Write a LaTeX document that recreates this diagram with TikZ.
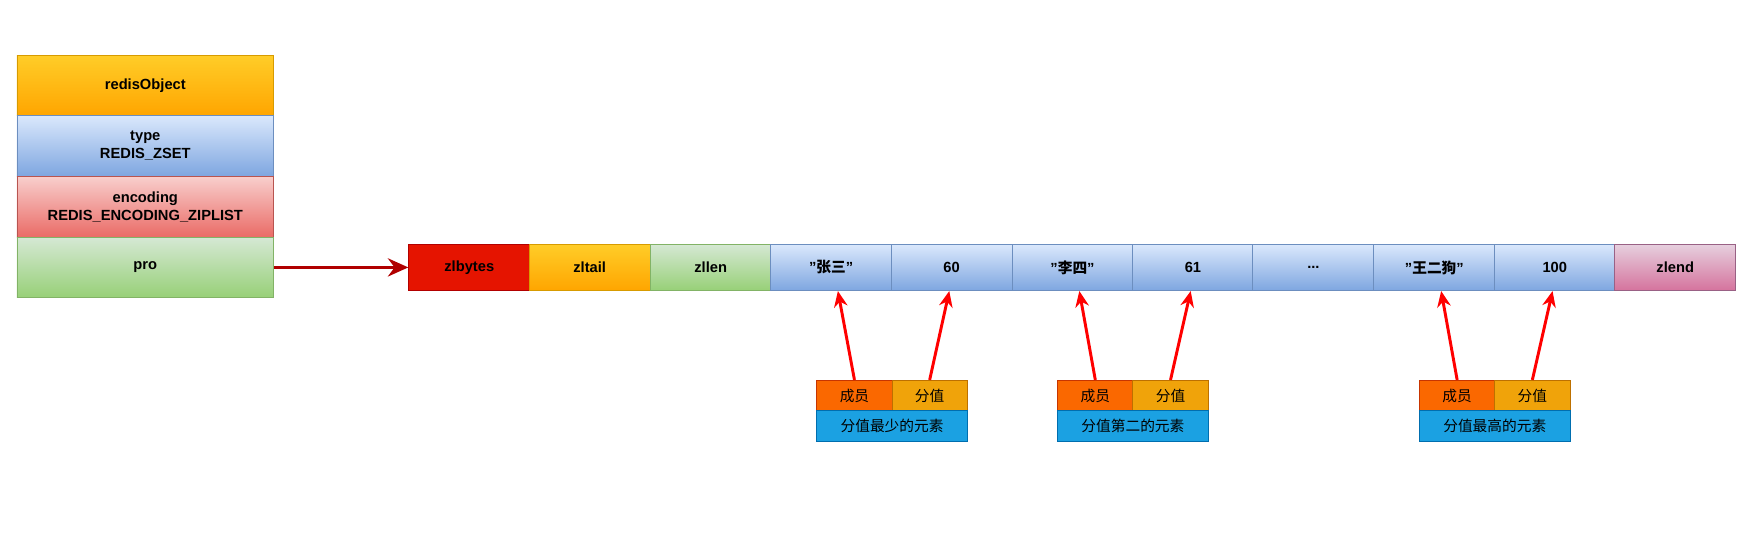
\documentclass[tikz,border=0pt]{standalone}
\usepackage{fontspec}
\usetikzlibrary{arrows.meta}
\setmainfont{Liberation Sans}
\newfontfamily\cjk{Noto Sans CJK SC}
\begin{document}
\begin{tikzpicture}[x=0.5pt,y=-0.5pt,
  cell/.style={draw, line width=0.4pt, minimum width=53.5pt, minimum height=20.5pt, inner sep=0pt, font=\bfseries\fontsize{6.5}{7.5}\selectfont},
  obj/.style={draw, line width=0.4pt, minimum width=113.5pt, minimum height=26.75pt, inner sep=0pt, align=center, font=\bfseries\fontsize{6.5}{7.8}\selectfont},
  sm/.style={draw, line width=0.4pt, minimum width=33.25pt, minimum height=13.5pt, inner sep=0pt, font=\cjk\fontsize{6.5}{7.5}\selectfont},
  wide/.style={draw, line width=0.4pt, minimum width=66.5pt, minimum height=13.5pt, inner sep=0pt, font=\cjk\fontsize{6.5}{7.5}\selectfont},
  redarr/.style={draw=red, line width=1.3pt, -{Stealth[length=7pt,width=6pt]}}]
\useasboundingbox (0,0) rectangle (1560,480);
\definecolor{oA}{HTML}{FFCD28}\definecolor{oB}{HTML}{FFA500}\definecolor{oD}{HTML}{D79B00}
\definecolor{bA}{HTML}{DAE8FC}\definecolor{bB}{HTML}{7EA6E0}\definecolor{bD}{HTML}{6C8EBF}
\definecolor{rA}{HTML}{F8CECC}\definecolor{rB}{HTML}{EA6B66}\definecolor{rD}{HTML}{B85450}
\definecolor{gA}{HTML}{D5E8D4}\definecolor{gB}{HTML}{97D077}\definecolor{gD}{HTML}{82B366}
\definecolor{pA}{HTML}{E6D0DE}\definecolor{pB}{HTML}{D5739D}\definecolor{pD}{HTML}{996185}
\definecolor{zr}{HTML}{E51400}\definecolor{zrD}{HTML}{B20000}
\definecolor{mo}{HTML}{FA6800}\definecolor{moD}{HTML}{C73500}
\definecolor{sc}{HTML}{F0A30A}\definecolor{scD}{HTML}{BD7000}
\definecolor{bl}{HTML}{1BA1E2}\definecolor{blD}{HTML}{006EAF}
\definecolor{dr}{HTML}{B00000}
\tikzset{orangeg/.style={draw=oD, top color=oA, bottom color=oB},
  blueg/.style={draw=bD, top color=bA, bottom color=bB},
  redg/.style={draw=rD, top color=rA, bottom color=rB},
  greeng/.style={draw=gD, top color=gA, bottom color=gB},
  pinkg/.style={draw=pD, top color=pA, bottom color=pB}}
\node[obj, orangeg] (ro) at (128.5,75.5) {redisObject};
\node[obj, blueg] (ty) at (128.5,129) {type\\REDIS\_ZSET};
\node[obj, redg] (en) at (128.5,183) {encoding\\REDIS\_ENCODING\_ZIPLIST};
\node[obj, greeng] (pr) at (128.5,236.5) {pro};
\node[cell, fill=zr, draw=zrD] (c1) at (415,236.5) {zlbytes};
\node[cell, orangeg] (c2) at (521.5,236.5) {zltail};
\node[cell, greeng] (c3) at (628.5,236.5) {zllen};
\node[cell, blueg] (c4) at (735,236.5) {"{\cjk 张三}"};
\node[cell, blueg] (c5) at (841.5,236.5) {60};
\node[cell, blueg] (c6) at (948.5,236.5) {"{\cjk 李四}"};
\node[cell, blueg] (c7) at (1055,236.5) {61};
\node[cell, blueg] (c8) at (1161.5,236.5) {...};
\node[cell, blueg] (c9) at (1268.5,236.5) {"{\cjk 王二狗}"};
\node[cell, blueg] (c10) at (1375,236.5) {100};
\node[cell, pinkg] (c11) at (1481.5,236.5) {zlend};
\draw[draw=dr, line width=1.5pt, -{Stealth[length=9pt,width=8pt]}] (pr.east) -- (c1.west);
\foreach \g/\x/\t/\a/\b in {a/722/分值最少的元素/c4/c5, b/935/分值第二的元素/c6/c7, c/1255/分值最高的元素/c9/c10}{
  \node[sm, fill=mo, draw=moD, anchor=north west] (m\g) at (\x,336) {成员};
  \node[sm, fill=sc, draw=scD, anchor=north west] (s\g) at (\x+66.5,336) {分值};
  \node[wide, fill=bl, draw=blD, anchor=north west] (w\g) at (\x,363) {\t};
  \draw[redarr] (m\g.north) -- ([xshift=3pt]\a.south);
  \draw[redarr] (s\g.north) -- ([xshift=-1pt]\b.south);
}
\end{tikzpicture}
\end{document}
